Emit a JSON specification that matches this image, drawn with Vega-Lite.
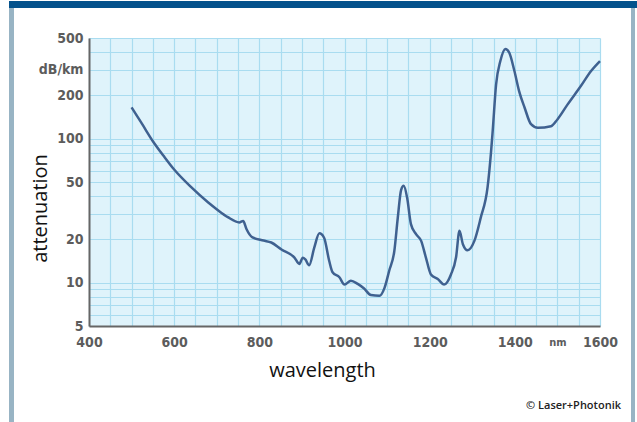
{
  "$schema": "https://vega.github.io/schema/vega-lite/v6.json",
  "padding": 0,
  "background": "white",
  "bounds": "flush",
  "align": "each",
  "spacing": 0,
  "columns": 7,
  "config": {"view": {"stroke": null}},
  "data": {"values": [{}]},
  "concat": [
    {"mark": {"type": "rule", "opacity": 0}, "encoding": {}, "width": 8, "height": 7},
    {"mark": {"type": "rule", "opacity": 0}, "encoding": {}, "width": 5, "height": 7, "view": {"fill": "#04528c", "stroke": null}},
    {"mark": {"type": "rule", "opacity": 0}, "encoding": {}, "width": 75, "height": 7, "view": {"fill": "#04528c", "stroke": null}},
    {"mark": {"type": "rule", "opacity": 0}, "encoding": {}, "width": 511, "height": 7, "view": {"fill": "#04528c", "stroke": null}},
    {"mark": {"type": "rule", "opacity": 0}, "encoding": {}, "width": 31, "height": 7, "view": {"fill": "#04528c", "stroke": null}},
    {"mark": {"type": "rule", "opacity": 0}, "encoding": {}, "width": 4, "height": 7, "view": {"fill": "#04528c", "stroke": null}},
    {"mark": {"type": "rule", "opacity": 0}, "encoding": {}, "width": 3, "height": 7, "view": {"fill": "#04528c", "stroke": null}},

    {"mark": {"type": "rule", "opacity": 0}, "encoding": {}, "width": 8, "height": 30},
    {"mark": {"type": "rule", "opacity": 0}, "encoding": {}, "width": 5, "height": 30, "view": {"fill": "#98b4c4", "stroke": null}},
    {"mark": {"type": "rule", "opacity": 0}, "encoding": {}, "width": 75, "height": 30},
    {"mark": {"type": "rule", "opacity": 0}, "encoding": {}, "width": 511, "height": 30},
    {"mark": {"type": "rule", "opacity": 0}, "encoding": {}, "width": 31, "height": 30},
    {"mark": {"type": "rule", "opacity": 0}, "encoding": {}, "width": 4, "height": 30, "view": {"fill": "#98b4c4", "stroke": null}},
    {"mark": {"type": "rule", "opacity": 0}, "encoding": {}, "width": 3, "height": 30},

    {"mark": {"type": "rule", "opacity": 0}, "encoding": {}, "width": 8, "height": 288},
    {"mark": {"type": "rule", "opacity": 0}, "encoding": {}, "width": 5, "height": 288, "view": {"fill": "#98b4c4", "stroke": null}},
    {"mark": {"type": "rule", "opacity": 0}, "encoding": {}, "width": 75, "height": 288},
    {
      "width": 511,
      "height": 288,
      "view": {"fill": "#dff3fb", "stroke": null},
      "title": {"text": "© Laser+Photonik", "orient": "bottom", "anchor": "end", "frame": "group", "fontSize": 11, "fontWeight": 600, "font": "Open Sans", "color": "#222222", "dx": 21, "offset": 20},
      "data": {"values": [
        {"wavelength": 500, "attenuation": 165},
        {"wavelength": 525, "attenuation": 126},
        {"wavelength": 550, "attenuation": 96},
        {"wavelength": 575, "attenuation": 76},
        {"wavelength": 600, "attenuation": 61},
        {"wavelength": 640, "attenuation": 46},
        {"wavelength": 680, "attenuation": 36},
        {"wavelength": 702, "attenuation": 32},
        {"wavelength": 726, "attenuation": 28.5},
        {"wavelength": 753, "attenuation": 26.2},
        {"wavelength": 762, "attenuation": 26.8},
        {"wavelength": 770, "attenuation": 23.5},
        {"wavelength": 784, "attenuation": 20.6},
        {"wavelength": 810, "attenuation": 19.6},
        {"wavelength": 828, "attenuation": 19},
        {"wavelength": 852, "attenuation": 17},
        {"wavelength": 882, "attenuation": 15},
        {"wavelength": 894, "attenuation": 13.5},
        {"wavelength": 902, "attenuation": 14.9},
        {"wavelength": 908, "attenuation": 14.5},
        {"wavelength": 917, "attenuation": 13.2},
        {"wavelength": 929, "attenuation": 17.5},
        {"wavelength": 941, "attenuation": 22},
        {"wavelength": 952, "attenuation": 20.5},
        {"wavelength": 964, "attenuation": 14.2},
        {"wavelength": 972, "attenuation": 11.8},
        {"wavelength": 988, "attenuation": 10.9},
        {"wavelength": 1000, "attenuation": 9.7},
        {"wavelength": 1015, "attenuation": 10.3},
        {"wavelength": 1031, "attenuation": 9.8},
        {"wavelength": 1046, "attenuation": 9.1},
        {"wavelength": 1062, "attenuation": 8.2},
        {"wavelength": 1082, "attenuation": 8.1},
        {"wavelength": 1094, "attenuation": 9.2},
        {"wavelength": 1105, "attenuation": 12.1},
        {"wavelength": 1117, "attenuation": 16.6},
        {"wavelength": 1125, "attenuation": 28},
        {"wavelength": 1133, "attenuation": 44},
        {"wavelength": 1139, "attenuation": 47},
        {"wavelength": 1147, "attenuation": 39},
        {"wavelength": 1156, "attenuation": 25.5},
        {"wavelength": 1168, "attenuation": 21.7},
        {"wavelength": 1180, "attenuation": 19.5},
        {"wavelength": 1191, "attenuation": 15},
        {"wavelength": 1203, "attenuation": 11.4},
        {"wavelength": 1219, "attenuation": 10.6},
        {"wavelength": 1234, "attenuation": 9.7},
        {"wavelength": 1250, "attenuation": 11.4},
        {"wavelength": 1262, "attenuation": 15},
        {"wavelength": 1270, "attenuation": 22.9},
        {"wavelength": 1278, "attenuation": 18.5},
        {"wavelength": 1289, "attenuation": 16.8},
        {"wavelength": 1305, "attenuation": 19.5},
        {"wavelength": 1320, "attenuation": 28.3},
        {"wavelength": 1336, "attenuation": 46},
        {"wavelength": 1344, "attenuation": 80},
        {"wavelength": 1348, "attenuation": 113},
        {"wavelength": 1356, "attenuation": 238},
        {"wavelength": 1366, "attenuation": 346},
        {"wavelength": 1378, "attenuation": 420},
        {"wavelength": 1387, "attenuation": 395},
        {"wavelength": 1399, "attenuation": 295},
        {"wavelength": 1410, "attenuation": 214},
        {"wavelength": 1423, "attenuation": 164},
        {"wavelength": 1438, "attenuation": 126},
        {"wavelength": 1454, "attenuation": 119},
        {"wavelength": 1485, "attenuation": 122},
        {"wavelength": 1500, "attenuation": 136},
        {"wavelength": 1524, "attenuation": 173},
        {"wavelength": 1555, "attenuation": 232},
        {"wavelength": 1579, "attenuation": 295},
        {"wavelength": 1600, "attenuation": 346}
      ]},
      "mark": {"type": "line", "color": "#3f6190", "strokeWidth": 2.5, "interpolate": "monotone"},
      "encoding": {
        "x": {
          "field": "wavelength", "type": "quantitative",
          "scale": {"domain": [400, 1600], "nice": false, "zero": false},
          "axis": {
            "title": "wavelength",
            "values": [400, 450, 500, 550, 600, 650, 700, 750, 800, 850, 900, 950, 1000, 1050, 1100, 1150, 1200, 1250, 1300, 1350, 1400, 1450, 1500, 1550, 1600],
            "labelExpr": "datum.value % 200 == 0 ? datum.value : (datum.value == 1500 ? 'nm' : '')",
            "labelFontSize": {"condition": {"test": "datum.value == 1500", "value": 11}, "value": 14},
            "labelOverlap": false,
            "labelBound": false,
            "labelFlush": false,
            "labelFont": "DejaVu Sans Condensed",
            "labelFontWeight": "bold",
            "labelColor": "#5c5c5c",
            "labelBaseline": "middle",
            "labelPadding": 16,
            "ticks": false,
            "domainColor": "#666666",
            "domainWidth": 2,
            "gridColor": "#a9dcf0",
            "gridWidth": 1.2,
            "gridOpacity": 1,
            "titleFont": "Open Sans",
            "titleFontSize": 20,
            "titleFontWeight": "normal",
            "titleColor": "#111111",
            "titleBaseline": "alphabetic",
            "titleX": 233,
            "titleY": 50
          }
        },
        "y": {
          "field": "attenuation", "type": "quantitative",
          "scale": {"type": "log", "domain": [5, 500], "nice": false},
          "axis": {
            "title": "attenuation",
            "values": [5, 6, 7, 8, 9, 10, 20, 30, 40, 50, 60, 70, 80, 90, 100, 200, 300, 400, 500],
            "labelExpr": "datum.value == 300 ? 'dB/km' : (indexof([5,10,20,50,100,200,500], datum.value) >= 0 ? datum.value : '')",
            "labelOverlap": false,
            "labelBound": false,
            "labelFlush": false,
            "labelFont": "DejaVu Sans Condensed",
            "labelFontWeight": "bold",
            "labelFontSize": 14,
            "labelColor": "#5c5c5c",
            "labelPadding": 6,
            "ticks": false,
            "domainColor": "#666666",
            "domainWidth": 2,
            "gridColor": "#a9dcf0",
            "gridWidth": 1.2,
            "gridOpacity": 1,
            "titleFont": "Open Sans",
            "titleFontSize": 20,
            "titleFontWeight": "normal",
            "titleColor": "#111111",
            "titleBaseline": "alphabetic",
            "titleX": -43,
            "titleY": 170
          }
        }
      }
    },
    {"mark": {"type": "rule", "opacity": 0}, "encoding": {}, "width": 31, "height": 288},
    {"mark": {"type": "rule", "opacity": 0}, "encoding": {}, "width": 4, "height": 288, "view": {"fill": "#98b4c4", "stroke": null}},
    {"mark": {"type": "rule", "opacity": 0}, "encoding": {}, "width": 3, "height": 288},

    {"mark": {"type": "rule", "opacity": 0}, "encoding": {}, "width": 8, "height": 97},
    {"mark": {"type": "rule", "opacity": 0}, "encoding": {}, "width": 5, "height": 97, "view": {"fill": "#98b4c4", "stroke": null}},
    {"mark": {"type": "rule", "opacity": 0}, "encoding": {}, "width": 75, "height": 97},
    {"mark": {"type": "rule", "opacity": 0}, "encoding": {}, "width": 511, "height": 97},
    {"mark": {"type": "rule", "opacity": 0}, "encoding": {}, "width": 31, "height": 97},
    {"mark": {"type": "rule", "opacity": 0}, "encoding": {}, "width": 4, "height": 97, "view": {"fill": "#98b4c4", "stroke": null}},
    {"mark": {"type": "rule", "opacity": 0}, "encoding": {}, "width": 3, "height": 97}
  ]
}
